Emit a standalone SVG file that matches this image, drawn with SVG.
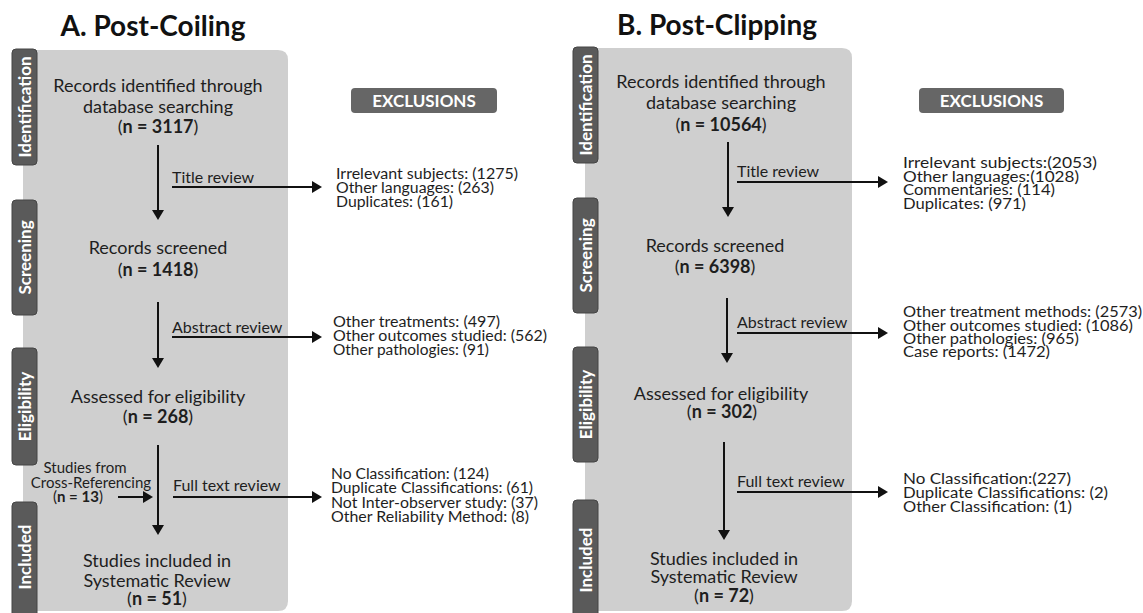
<svg xmlns="http://www.w3.org/2000/svg" width="1143" height="613" viewBox="0 0 1143 613">
<style>
text{font-family:Lato,"Open Sans","Liberation Sans",sans-serif;fill:#1e1e1e}
.title{font-size:28px;font-weight:700;text-anchor:middle;fill:#111}
.main{font-size:18px;text-anchor:middle}
.b{font-weight:700}
.lab{font-size:16px}
.small{font-size:15px}
.excl{font-size:14.5px}
.panel{fill:#cfcfcf}
.side{fill:#5a5a5a;stroke:#444;stroke-width:1}
.sidet{font-size:17px;font-weight:700;fill:#fff;text-anchor:middle}
.exbox{fill:#666}
.ext{font-size:17px;font-weight:700;fill:#fff;text-anchor:middle}
.conn line{stroke:#111;stroke-width:2;marker-end:url(#ah)}
</style>
<defs>
<marker id="ah" viewBox="0 0 10 12" refX="4" refY="6" markerWidth="10" markerHeight="12" markerUnits="userSpaceOnUse" orient="auto">
<path d="M0,0 L10,6 L0,12 z" fill="#111"/>
</marker>
</defs>
<rect width="1143" height="613" fill="#fff"/>

<!-- Panel A -->
<g id="panelA">
<text class="title" x="153" y="36">A. Post-Coiling</text>
<path class="panel" d="M23,50 H278 Q288,50 288,60 V601 Q288,611 278,611 H23 Z"/>
</g>
<g id="A-side-identification"><rect class="side" x="12" y="49" width="25" height="116" rx="4"/><text class="sidet" transform="translate(30.5,107) rotate(-90)">Identification</text></g>
<g id="A-side-screening"><rect class="side" x="12" y="200" width="25" height="115" rx="4"/><text class="sidet" transform="translate(30.5,257.5) rotate(-90)">Screening</text></g>
<g id="A-side-eligibility"><rect class="side" x="12" y="348" width="25" height="117" rx="4"/><text class="sidet" transform="translate(30.5,406.5) rotate(-90)">Eligibility</text></g>
<g id="A-side-included"><rect class="side" x="12" y="502" width="25" height="125" rx="4"/><text class="sidet" transform="translate(30.5,557) rotate(-90)">Included</text></g>

<g id="A-identified"><text class="main" x="158" y="92">Records identified through</text><text class="main" x="158" y="113">database searching</text><text class="main" x="158" y="133">(<tspan class="b">n = 3117</tspan>)</text></g>
<g id="A-screened"><text class="main" x="158" y="254">Records screened</text><text class="main" x="158" y="276">(<tspan class="b">n = 1418</tspan>)</text></g>
<g id="A-eligibility"><text class="main" x="158" y="403">Assessed for eligibility</text><text class="main" x="158" y="423">(<tspan class="b">n = 268</tspan>)</text></g>
<g id="A-included"><text class="main" x="157" y="567">Studies included in</text><text class="main" x="157" y="587">Systematic Review</text><text class="main" x="157" y="605">(<tspan class="b">n = 51</tspan>)</text></g>
<g id="A-crossref"><text class="small" x="85" y="473" text-anchor="middle">Studies from</text><text class="small" x="91" y="488" text-anchor="middle">Cross-Referencing</text><text class="small" x="53" y="502">(<tspan class="b">n = 13</tspan>)</text></g>

<g id="A-exclusions-head"><rect class="exbox" x="351" y="88" width="146" height="25" rx="4"/><text class="ext" x="424" y="107">EXCLUSIONS</text></g>
<g id="A-excl-title"><text class="excl" x="336" y="179" textLength="182" lengthAdjust="spacingAndGlyphs">Irrelevant subjects: (1275)</text><text class="excl" x="336" y="193" textLength="158" lengthAdjust="spacingAndGlyphs">Other languages: (263)</text><text class="excl" x="336" y="207" textLength="117" lengthAdjust="spacingAndGlyphs">Duplicates: (161)</text></g>
<g id="A-excl-abstract"><text class="excl" x="333" y="327" textLength="167" lengthAdjust="spacingAndGlyphs">Other treatments: (497)</text><text class="excl" x="333" y="341" textLength="214" lengthAdjust="spacingAndGlyphs">Other outcomes studied: (562)</text><text class="excl" x="333" y="355" textLength="156" lengthAdjust="spacingAndGlyphs">Other pathologies: (91)</text></g>
<g id="A-excl-fulltext"><text class="excl" x="331" y="479" textLength="158" lengthAdjust="spacingAndGlyphs">No Classification: (124)</text><text class="excl" x="331" y="493" textLength="202" lengthAdjust="spacingAndGlyphs">Duplicate Classifications: (61)</text><text class="excl" x="331" y="508" textLength="207" lengthAdjust="spacingAndGlyphs">Not Inter-observer study: (37)</text><text class="excl" x="331" y="522" textLength="198" lengthAdjust="spacingAndGlyphs">Other Reliability Method: (8)</text></g>

<!-- Panel B -->
<g id="panelB">
<text class="title" x="717" y="35">B. Post-Clipping</text>
<path class="panel" d="M585,48 H842 Q852,48 852,58 V601 Q852,611 842,611 H585 Z"/>
</g>
<g id="B-side-identification"><rect class="side" x="573" y="47" width="25" height="116" rx="4"/><text class="sidet" transform="translate(591.5,105) rotate(-90)">Identification</text></g>
<g id="B-side-screening"><rect class="side" x="573" y="198" width="25" height="115" rx="4"/><text class="sidet" transform="translate(591.5,255.5) rotate(-90)">Screening</text></g>
<g id="B-side-eligibility"><rect class="side" x="573" y="347" width="25" height="115" rx="4"/><text class="sidet" transform="translate(591.5,404.5) rotate(-90)">Eligibility</text></g>
<g id="B-side-included"><rect class="side" x="573" y="500" width="25" height="125" rx="4"/><text class="sidet" transform="translate(591.5,560) rotate(-90)">Included</text></g>

<g id="B-identified"><text class="main" x="721" y="88">Records identified through</text><text class="main" x="721" y="109">database searching</text><text class="main" x="721" y="131">(<tspan class="b">n = 10564</tspan>)</text></g>
<g id="B-screened"><text class="main" x="715" y="252">Records screened</text><text class="main" x="715" y="273">(<tspan class="b">n = 6398</tspan>)</text></g>
<g id="B-eligibility"><text class="main" x="721" y="400">Assessed for eligibility</text><text class="main" x="722" y="418">(<tspan class="b">n = 302</tspan>)</text></g>
<g id="B-included"><text class="main" x="724" y="565">Studies included in</text><text class="main" x="724" y="583">Systematic Review</text><text class="main" x="724" y="602">(<tspan class="b">n = 72</tspan>)</text></g>

<g id="B-exclusions-head"><rect class="exbox" x="919" y="88" width="145" height="25" rx="4"/><text class="ext" x="991.5" y="107">EXCLUSIONS</text></g>
<g id="B-excl-title"><text class="excl" x="903" y="168" textLength="194" lengthAdjust="spacingAndGlyphs">Irrelevant subjects:(2053)</text><text class="excl" x="903" y="182" textLength="176" lengthAdjust="spacingAndGlyphs">Other languages:(1028)</text><text class="excl" x="903" y="195" textLength="152" lengthAdjust="spacingAndGlyphs">Commentaries: (114)</text><text class="excl" x="903" y="209" textLength="123" lengthAdjust="spacingAndGlyphs">Duplicates: (971)</text></g>
<g id="B-excl-abstract"><text class="excl" x="903" y="317" textLength="239" lengthAdjust="spacingAndGlyphs">Other treatment methods: (2573)</text><text class="excl" x="903" y="331" textLength="230" lengthAdjust="spacingAndGlyphs">Other outcomes studied: (1086)</text><text class="excl" x="903" y="344" textLength="176" lengthAdjust="spacingAndGlyphs">Other pathologies: (965)</text><text class="excl" x="903" y="357" textLength="147" lengthAdjust="spacingAndGlyphs">Case reports: (1472)</text></g>
<g id="B-excl-fulltext"><text class="excl" x="903" y="484" textLength="168" lengthAdjust="spacingAndGlyphs">No Classification:(227)</text><text class="excl" x="903" y="498" textLength="205" lengthAdjust="spacingAndGlyphs">Duplicate Classifications: (2)</text><text class="excl" x="903" y="512" textLength="169" lengthAdjust="spacingAndGlyphs">Other Classification: (1)</text></g>

<!-- Connectors -->
<g id="connectors" class="conn">
<line x1="158" y1="145" x2="158" y2="214"/>
<line x1="158" y1="302" x2="158" y2="362"/>
<line x1="158" y1="445" x2="158" y2="529"/>
<line x1="172" y1="187" x2="316" y2="187"/>
<line x1="172" y1="337" x2="316" y2="337"/>
<line x1="173" y1="497" x2="316" y2="497"/>
<line x1="118" y1="497" x2="147" y2="497"/>
<line x1="728" y1="142" x2="728" y2="211"/>
<line x1="727" y1="298" x2="727" y2="357"/>
<line x1="724" y1="442" x2="724" y2="534"/>
<line x1="737" y1="182" x2="882" y2="182"/>
<line x1="737" y1="333" x2="882" y2="333"/>
<line x1="737" y1="492" x2="882" y2="492"/>
</g>
<g id="labels">
<text class="lab" x="172" y="183">Title review</text>
<text class="lab" x="172" y="333">Abstract review</text>
<text class="lab" x="173" y="491">Full text review</text>
<text class="lab" x="737" y="177">Title review</text>
<text class="lab" x="737" y="328">Abstract review</text>
<text class="lab" x="737" y="487">Full text review</text>
</g>
</svg>
